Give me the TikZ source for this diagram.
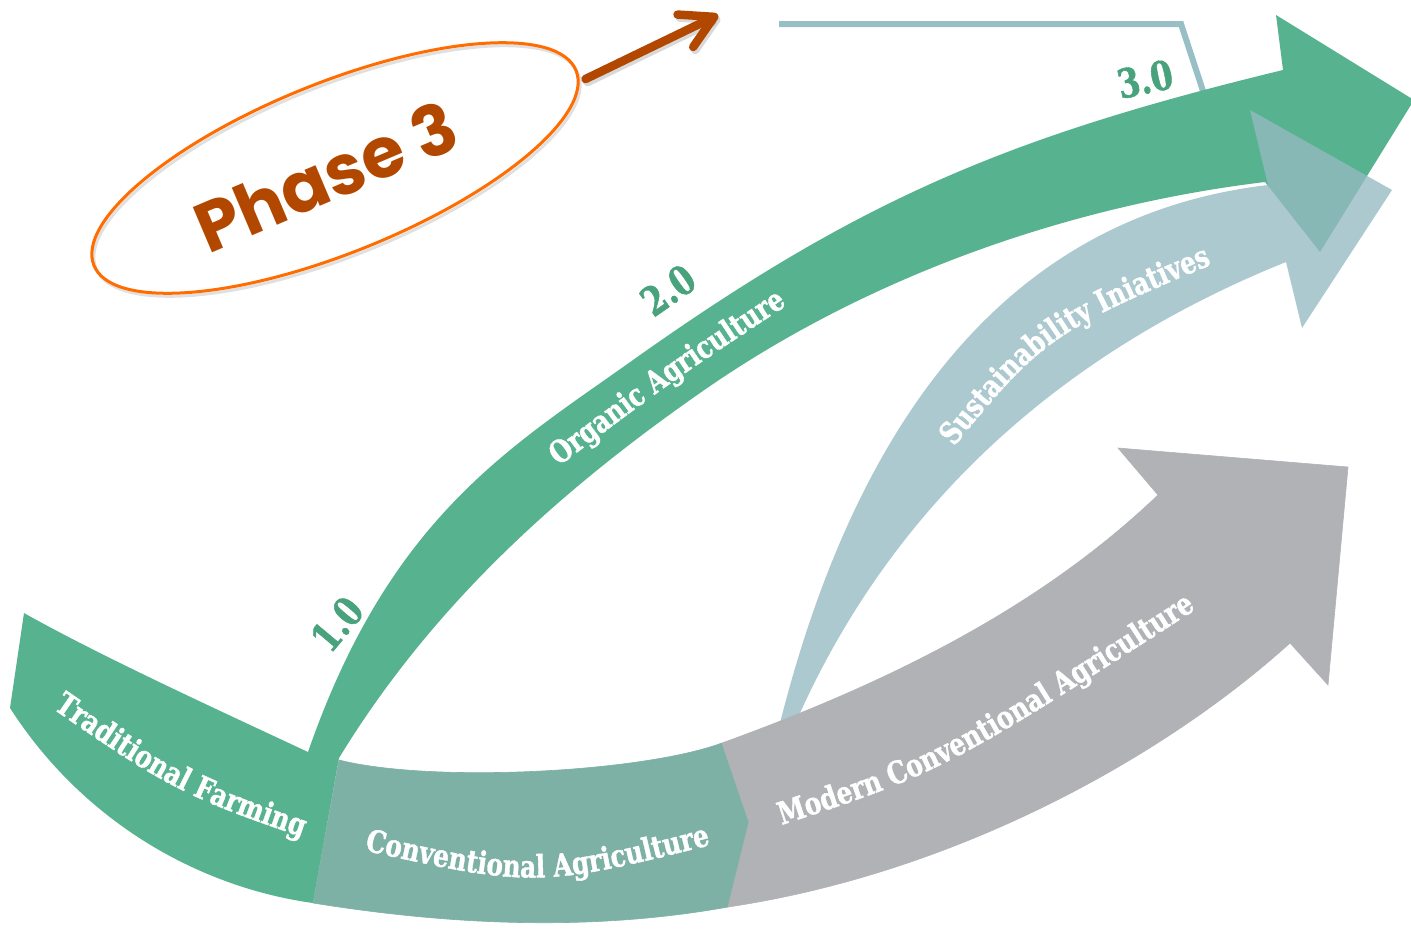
\documentclass[tikz,border=0pt]{standalone}
\usepackage{fontspec}
\usetikzlibrary{shapes.geometric,arrows.meta,decorations.text}
\newfontfamily\slabfont[FakeStretch=0.8,FakeBold=1.2]{DejaVu Serif}
\newfontfamily\phasefont{Poppins}
\definecolor{bandgreen}{RGB}{87,179,143}
\definecolor{bandconv}{RGB}{125,177,165}
\definecolor{bandgray}{RGB}{177,178,182}
\definecolor{bandblue}{RGB}{149,186,194}
\definecolor{lineteal}{RGB}{152,190,198}
\definecolor{numgreen}{RGB}{72,162,124}
\definecolor{ringorange}{RGB}{255,108,0}
\definecolor{phasebrown}{RGB}{178,72,0}
\tikzset{
  numlabel/.style={text=numgreen, font=\slabfont\bfseries\fontsize{40}{40}\selectfont, inner sep=0pt},
  curvedlabel/.style={decoration={text along path, text align=center, text color=white,
     text={|\slabfont\bfseries\fontsize{31}{31}\selectfont|#1}}, decorate},
  ring/.style={ellipse, line width=3pt, minimum width=520pt, minimum height=170pt, rotate=22, inner sep=0pt},
  phasearrow/.style={line width=8.5pt, line cap=round, -{Straight Barb[length=32pt,width=36pt,round]}},
}
\begin{document}
\begin{tikzpicture}[x=1pt,y=-1pt]
\useasboundingbox (0,0) rectangle (1411,932);

% teal bracket line at the top
\coordinate (lineA) at (779,24);
\coordinate (lineB) at (1181,24);
\coordinate (lineC) at (1205,97);
\draw[lineteal, line width=6pt] (lineA) -- (lineB) -- (lineC);

% green band: traditional farming + organic agriculture arrow
\fill[bandgreen] (24,613) .. controls (102,657) and (227,714) .. (308,752)
  .. controls (390,516) and (511,447) .. (633,360)
  .. controls (861,198) and (1011,136) .. (1283,70)
  -- (1276,15) -- (1414,100) -- (1320,252) -- (1265,182)
  .. controls (1066,206) and (864,278) .. (700,393)
  .. controls (561,490) and (433,604) .. (339,758)
  -- (313,903)
  .. controls (204,888) and (86,826) .. (10,708)
  -- cycle;

% sustainability arrow (semi-transparent)
\fill[bandblue, opacity=0.78] (776,745) -- (780,723)
  .. controls (861,403) and (1020,214) .. (1268,185)
  -- (1250,110) -- (1392,190) -- (1302,328) -- (1286,262)
  .. controls (1082,344) and (903,486) .. (800,713)
  -- (802,740) -- cycle;

% conventional agriculture segment
\filldraw[bandconv, line width=0.6pt] (339,760)
  .. controls (430,783) and (640,773) .. (722,743)
  -- (749,822) -- (728,907)
  .. controls (600,930) and (462,927) .. (313,903)
  -- cycle;

% modern conventional agriculture arrow
\filldraw[bandgray, line width=0.6pt] (722,743)
  .. controls (910,675) and (1050,598) .. (1158,495)
  -- (1118,448) -- (1348,467) -- (1328,685) -- (1290,643)
  .. controls (1164,757) and (956,873) .. (728,907)
  -- (749,822) -- cycle;

% curved white labels
\path[curvedlabel={Traditional Farming}] (20,686) .. controls (176,794) .. (340,850);
\path[curvedlabel={Conventional Agriculture}] (345,846) .. controls (536,889) .. (730,840);
\path[curvedlabel={Modern Conventional Agriculture}] (760,832) .. controls (942,773) .. (1215,597);
\path[curvedlabel={Organic Agriculture}] (534,485) .. controls (670,382) .. (813,288);
\path[curvedlabel={Sustainability Iniatives}] (932,474) .. controls (1044,334) .. (1244,251);

% version numbers
\node[numlabel, rotate=50] (n1) at (337,624) {1.0};
\node[numlabel, rotate=35] (n2) at (668,290) {2.0};
\node[numlabel, rotate=12] (n3) at (1145,79) {3.0};

% Phase 3 callout
\node[ring, draw=black, opacity=0.12] at (337,171) {};
\node[ring, draw=ringorange] (phase) at (335,168) {};
\node[text=phasebrown, font=\phasefont\bfseries\fontsize{70}{70}\selectfont, rotate=23, inner sep=0pt] (ptext) at (326,176) {Phase 3};
\coordinate (arrowtip) at (718,15);
\coordinate (shadowtip) at (720,18);
\draw[phasearrow, black, opacity=0.15] ([xshift=10pt,yshift=-12pt]phase.east) -- (shadowtip);
\draw[phasearrow, phasebrown] ([xshift=8pt,yshift=-9pt]phase.east) -- (arrowtip);
\end{tikzpicture}
\end{document}
